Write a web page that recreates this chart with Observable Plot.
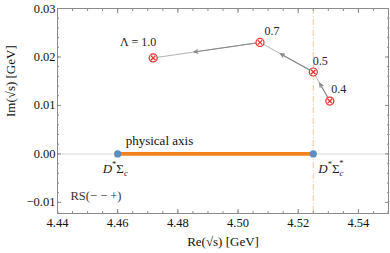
<!DOCTYPE html>
<html>
<head>
<meta charset="utf-8">
<script src="https://cdn.jsdelivr.net/npm/d3@7"></script>
<script src="https://cdn.jsdelivr.net/npm/@observablehq/plot@0.6"></script>
<style>
  html, body { margin: 0; padding: 0; background: white; }
  svg text { font-family: 'Liberation Serif', serif; }
</style>
</head>
<body>
<div id="chart"></div>
<script>
// ---- data ----
const lambdaLabels = ["1.0", "0.7", "0.5", "0.4"];
const poleRe = [4.4718, 4.5073, 4.5250, 4.5305];
const poleIm = [0.0198, 0.0230, 0.0169, 0.0109];
const thresholdLabels = ["D*Σc", "D*Σc*"];
const thresholdRe = [4.460, 4.525];
const xTicks = [4.44, 4.46, 4.48, 4.50, 4.52, 4.54];
const yTicks = [-0.01, 0.00, 0.01, 0.02, 0.03];
const sheetLabel = "RS(− − +)";
const axisText = "physical axis";
const xLabel = "Re(√s) [GeV]";
const yLabel = "Im(√s) [GeV]";

// ---- derived tables ----
const poles = lambdaLabels.map((l, i) => ({lambda: l, re: poleRe[i], im: poleIm[i]}));
const thresholds = thresholdLabels.map((n, i) => ({name: n, re: thresholdRe[i], im: 0}));
const arrowFrac = 0.62;
const segs = [];
for (let i = poles.length - 1; i > 0; i--) {
  const a = poles[i], b = poles[i - 1];
  segs.push({x1: a.re, y1: a.im, x2: a.re + (b.re - a.re) * arrowFrac, y2: a.im + (b.im - a.im) * arrowFrac});
}
const xMinor = d3.range(0, 23).map(i => +(4.44 + i * 0.005).toFixed(4));
const yMinor = d3.range(-6, 16).map(i => +(i * 0.002).toFixed(4));

const labelDx = [-15, 12, 7, 9];
const labelDy = [-16, -11, -11, -12];

const frameGray = "#8c8c8c";
const fmt = d3.format(".2f");
const serif = "'Liberation Serif', serif";

const marks = [
  Plot.ruleY([0], {stroke: "#e4e4e4", strokeWidth: 1.5}),
  Plot.ruleX([thresholdRe[1]], {stroke: "#fcc89a", strokeWidth: 1, strokeDasharray: "6,2,1,2"}),
  Plot.line(thresholds, {x: "re", y: "im", stroke: "#f5821f", strokeWidth: 3.6}),
  Plot.dot(thresholds, {x: "re", y: "im", r: 3.6, fill: "#5b8ebd"}),
  Plot.line(poles, {x: "re", y: "im", stroke: "#a8a8a8", strokeWidth: 0.9}),
  Plot.arrow(segs, {x1: "x1", y1: "y1", x2: "x2", y2: "y2", stroke: "#8a8a8a", strokeWidth: 1.1, headLength: 6, headAngle: 45}),
  Plot.dot(poles, {x: "re", y: "im", r: 4, stroke: "#ee2a2a", strokeWidth: 1.2, fill: "white"}),
  Plot.dot(poles, {x: "re", y: "im", r: 2.2, symbol: "times", stroke: "#ee2a2a", strokeWidth: 1.2}),
  ...poles.map((p, i) => Plot.text([p], {
    x: "re", y: "im",
    text: d => (i === 0 ? "Λ = " : "") + d.lambda,
    dx: labelDx[i], dy: labelDy[i], fontSize: 12, fill: "#222", fontFamily: serif
  })),
  Plot.text([thresholds[0]], {x: "re", y: "im", text: () => axisText, textAnchor: "start", dx: 8, dy: -13, fontSize: 13, fill: "#111", fontFamily: serif}),
  Plot.text([thresholds[0]], {x: "re", y: "im", text: "name", textAnchor: "start", dx: -15, dy: 15, fontSize: 13, fill: "#222", fontFamily: serif}),
  Plot.text([thresholds[1]], {x: "re", y: "im", text: "name", textAnchor: "start", dx: 5, dy: 15, fontSize: 13, fill: "#222", fontFamily: serif}),
  Plot.text([sheetLabel], {frameAnchor: "bottom-left", textAnchor: "start", dx: 13, dy: -14, fontSize: 12.5, fill: "#333", fontFamily: serif}),
  Plot.frame({stroke: frameGray}),
  // major ticks
  Plot.axisX(xTicks, {anchor: "bottom", tickSize: -4, tickPadding: 9, tickFormat: fmt, stroke: frameGray, fill: "#111", fontSize: 12.5, fontFamily: serif, label: null}),
  Plot.axisX(xTicks, {anchor: "top", tickSize: -4, text: null, stroke: frameGray, label: null}),
  Plot.axisY(yTicks, {anchor: "left", tickSize: -4, tickPadding: 6, tickFormat: fmt, stroke: frameGray, fill: "#111", fontSize: 12.5, fontFamily: serif, label: null}),
  Plot.axisY(yTicks, {anchor: "right", tickSize: -4, text: null, stroke: frameGray, label: null}),
  // minor ticks
  Plot.axisX(xMinor, {anchor: "bottom", tickSize: -2, text: null, stroke: frameGray, label: null}),
  Plot.axisX(xMinor, {anchor: "top", tickSize: -2, text: null, stroke: frameGray, label: null}),
  Plot.axisY(yMinor, {anchor: "left", tickSize: -2, text: null, stroke: frameGray, label: null}),
  Plot.axisY(yMinor, {anchor: "right", tickSize: -2, text: null, stroke: frameGray, label: null}),
  // axis titles
  Plot.text([xLabel], {frameAnchor: "bottom", dy: 32, fontSize: 13, fill: "#111", fontFamily: serif}),
  Plot.text([yLabel], {frameAnchor: "left", dx: -47, dy: 6, rotate: -90, fontSize: 13, fill: "#111", fontFamily: serif})
];

const chart = Plot.plot({
  width: 390,
  height: 253,
  marginLeft: 57,
  marginRight: 2,
  marginTop: 8,
  marginBottom: 40,
  x: {domain: [4.44, 4.55], axis: null},
  y: {domain: [-0.0123, 0.03], axis: null},
  style: "font-family: 'Liberation Serif', serif; font-size: 12px; background: white; overflow: visible;",
  marks
});
document.getElementById("chart").appendChild(chart);

// typeset the threshold labels (italic D, superscript *, subscript c)
d3.select(chart).selectAll("text").each(function() {
  const t = this.textContent;
  if (!thresholdLabels.includes(t)) return;
  const el = d3.select(this);
  el.text(null);
  el.append("tspan").attr("font-style", "italic").text("D");
  el.append("tspan").attr("font-size", 8.5).attr("dy", -6).text("*");
  el.append("tspan").attr("dy", 6).text("Σ");
  el.append("tspan").attr("font-size", 8.5).attr("font-style", "italic").attr("dy", 3).text("c");
  if (t.endsWith("*")) {
    el.append("tspan").attr("font-size", 8.5).attr("dx", -4).attr("dy", -10).text("*");
  }
});
</script>
</body>
</html>
